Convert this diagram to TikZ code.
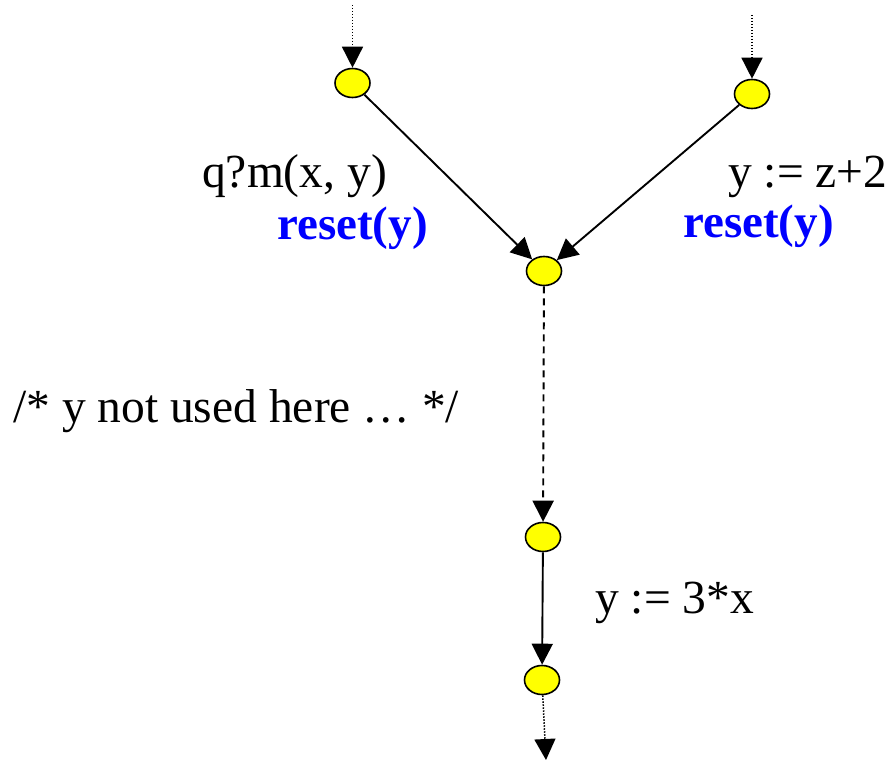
\documentclass[tikz,border=0pt]{standalone}
\usepackage{fontspec}
\setmainfont{Liberation Serif}
\usetikzlibrary{arrows.meta,shapes.geometric}
\definecolor{nodeyellow}{RGB}{255,255,0}
\definecolor{resetblue}{RGB}{0,0,255}
\tikzset{
  state/.style={ellipse, draw=black, line width=1.6pt, fill=nodeyellow, minimum width=35pt, minimum height=29pt, inner sep=0pt},
  tip/.style={-{Triangle[length=21pt,width=21pt]}},
  edge/.style={tip, line width=1.9pt},
  dotedge/.style={tip, line width=1.5pt, dash pattern=on 1.5pt off 1.5pt},
  dashedge/.style={tip, line width=1.9pt, dash pattern=on 7pt off 5pt},
  lab/.style={anchor=base west, inner sep=0pt, font=\fontsize{47.5}{52}\selectfont},
  rlab/.style={lab, text=resetblue, font=\fontsize{47}{52}\selectfont\bfseries}
}
\begin{document}
\begin{tikzpicture}[x=1pt,y=-1pt]
\useasboundingbox (0,0) rectangle (894,760);
\node[state] (A) at (352.5,83) {};
\node[state] (B) at (752,94) {};
\node[state] (C) at (544,271) {};
\node[state] (D) at (543,537) {};
\node[state] (E) at (542,680) {};
\coordinate (a0) at (352.5,5);
\coordinate (b0) at (752,15);
\coordinate (e1) at (546,760);
\draw[dotedge] (a0) -- (A);
\draw[dotedge] (b0) -- (B);
\draw[edge] (A) -- (C);
\draw[edge] (B) -- (C);
\draw[dashedge] (C) -- (D);
\draw[edge] (D) -- (E);
\draw[dotedge] (E) -- (e1);
\node[lab] (l1) at (202,187) {q?m(x, y)};
\node[rlab] (l2) at (277,239) {reset(y)};
\node[lab] (l3) at (728,187) {y := z+2};
\node[rlab] (l4) at (683,237) {reset(y)};
\node[lab] (l5) at (13,422) {/* y not used here … */};
\node[lab] (l6) at (595,613) {y := 3*x};
\end{tikzpicture}
\end{document}
